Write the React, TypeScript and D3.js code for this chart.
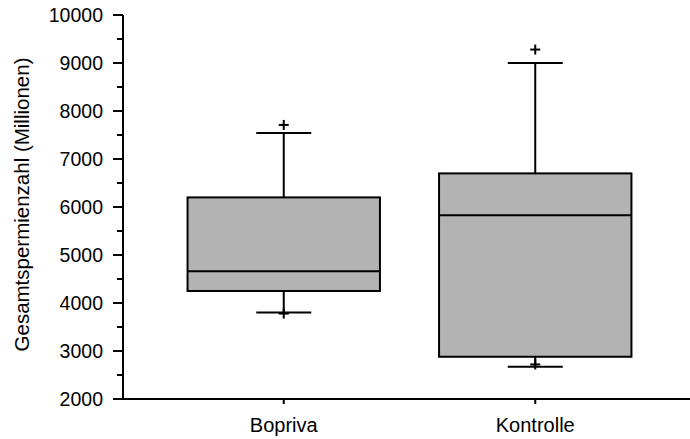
import React from "react";
import * as d3 from "d3";

const categories = ["Bopriva", "Kontrolle"];
const whiskerLow = [3800, 2670];
const q1 = [4250, 2880];
const median = [4660, 5830];
const q3 = [6200, 6700];
const whiskerHigh = [7540, 9000];
const outliers = [
  [7710, 3780],
  [9280, 2720],
];
const yTicks = [2000, 3000, 4000, 5000, 6000, 7000, 8000, 9000, 10000];
const yMinorTicks = [2500, 3500, 4500, 5500, 6500, 7500, 8500, 9500];
const yTitle = "Gesamtspermienzahl (Millionen)";

const W = 690;
const H = 439;
const FONT = "'Liberation Sans', Arial, sans-serif";

export default function App() {
  const y = d3.scaleLinear().domain([2000, 10000]).range([399, 15]);
  const x = d3.scaleBand<string>().domain(categories).range([158, 661]).paddingInner(0).paddingOuter(0);
  const bw = x.bandwidth();
  const boxW = bw * 0.765;
  const capW = 55;
  const axisX = 123;
  const axisY = y(2000);

  return (
    <svg
      width={W}
      height={H}
      style={{ position: "absolute", left: 0, top: 0, background: "#fff" }}
      fontFamily={FONT}
    >
      {categories.map((c, i) => {
        const cx = (x(c) as number) + bw / 2;
        return (
          <g key={c} stroke="#000" strokeWidth={2}>
            <line x1={cx} x2={cx} y1={y(q3[i])} y2={y(whiskerHigh[i])} />
            <line x1={cx} x2={cx} y1={y(q1[i])} y2={y(whiskerLow[i])} />
            <line x1={cx - capW / 2} x2={cx + capW / 2} y1={y(whiskerHigh[i])} y2={y(whiskerHigh[i])} />
            <line x1={cx - capW / 2} x2={cx + capW / 2} y1={y(whiskerLow[i])} y2={y(whiskerLow[i])} />
            <rect
              x={cx - boxW / 2}
              y={y(q3[i])}
              width={boxW}
              height={y(q1[i]) - y(q3[i])}
              fill="#b3b3b3"
            />
            <line x1={cx - boxW / 2} x2={cx + boxW / 2} y1={y(median[i])} y2={y(median[i])} />
            {outliers[i].map((v, j) => (
              <g key={j}>
                <line x1={cx - 5} x2={cx + 5} y1={y(v)} y2={y(v)} />
                <line x1={cx} x2={cx} y1={y(v) - 5} y2={y(v) + 5} />
              </g>
            ))}
          </g>
        );
      })}

      {/* y axis */}
      <line x1={axisX} x2={axisX} y1={y(10000)} y2={axisY + 1} stroke="#000" strokeWidth={2} />
      {yTicks.map((t) => (
        <g key={t}>
          <line x1={axisX - 10} x2={axisX} y1={y(t)} y2={y(t)} stroke="#000" strokeWidth={2} />
          <text x={103} y={y(t)} dy="0.35em" textAnchor="end" fontSize={19.5} fill="#000">
            {t}
          </text>
        </g>
      ))}
      {yMinorTicks.map((t) => (
        <line key={t} x1={axisX - 6} x2={axisX} y1={y(t)} y2={y(t)} stroke="#000" strokeWidth={2} />
      ))}

      {/* x axis */}
      <line x1={axisX - 1} x2={W} y1={axisY} y2={axisY} stroke="#000" strokeWidth={2} />
      {categories.map((c) => {
        const cx = (x(c) as number) + bw / 2;
        return (
          <g key={c}>
            <line x1={cx} x2={cx} y1={axisY} y2={axisY + 5} stroke="#000" strokeWidth={2} />
            <text x={cx} y={432} textAnchor="middle" fontSize={20} fill="#000">
              {c}
            </text>
          </g>
        );
      })}

      <text
        transform={`translate(28.5,${(50 + 359) / 2}) rotate(-90)`}
        textAnchor="middle"
        fontSize={20.5}
        fill="#000"
      >
        {yTitle}
      </text>
    </svg>
  );
}
